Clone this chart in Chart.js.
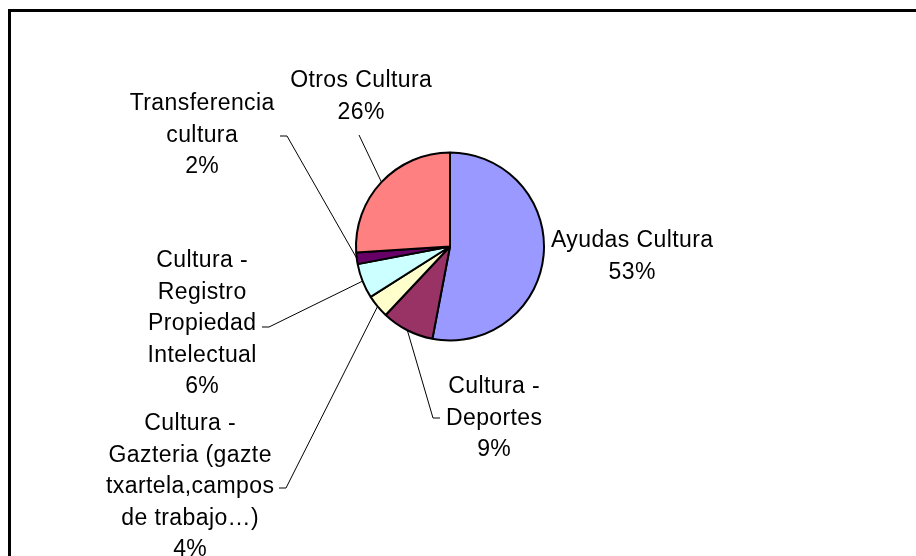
<!DOCTYPE html>
<html>
<head>
<meta charset="utf-8">
<script src="https://cdn.jsdelivr.net/npm/chart.js@4/dist/chart.umd.min.js"></script>
<style>
  html, body { margin: 0; padding: 0; background: #ffffff; }
  #wrap { width: 916px; height: 556px; position: relative; }
</style>
</head>
<body>
<div id="wrap"><canvas id="c" width="916" height="556"></canvas></div>
<script>
// ---- Data ----
const categories = [
  "Ayudas Cultura",
  "Cultura - Deportes",
  "Cultura - Gazteria (gazte txartela,campos de trabajo…)",
  "Cultura - Registro Propiedad Intelectual",
  "Transferencia cultura",
  "Otros Cultura"
];
const shares = [53, 9, 4, 6, 2, 26];
const labelLines = [
  ["Ayudas Cultura"],
  ["Cultura -", "Deportes"],
  ["Cultura -", "Gazteria (gazte", "txartela,campos", "de trabajo…)"],
  ["Cultura -", "Registro", "Propiedad", "Intelectual"],
  ["Transferencia", "cultura"],
  ["Otros Cultura"]
];
const sliceColors = ["#9999FF", "#993366", "#FFFFCC", "#CCFFFF", "#660066", "#FF8080"];

// ---- Layout of the data labels (text anchor: centre x, first baseline y) ----
const labelAnchors = [
  [632, 247],
  [494, 393],
  [190, 430],
  [202, 267],
  [202, 110],
  [361, 87]
];
// leader line start points (near the label), the line ends on the slice edge
const leaderStarts = [
  null,
  [[440, 418], [433, 418]],
  [[279, 488], [286, 488]],
  [[262, 327], [269, 327]],
  [[280, 136], [287, 136]],
  [[359, 135]]
];
const LINE_H = 31.5;

const total = shares.reduce((a, b) => a + b, 0);

const framePlugin = {
  id: 'frame',
  afterDraw(chart) {
    const ctx = chart.ctx;
    ctx.save();
    ctx.strokeStyle = '#000';
    ctx.lineWidth = 3;
    ctx.strokeRect(9.5, 10.5, 1200, 1200);
    ctx.restore();
  }
};

const labelPlugin = {
  id: 'pieLabels',
  afterDatasetsDraw(chart) {
    const ctx = chart.ctx;
    const meta = chart.getDatasetMeta(0);
    const values = chart.data.datasets[0].data;
    ctx.save();
    // leader lines
    ctx.strokeStyle = '#000';
    ctx.lineWidth = 1;
    meta.data.forEach((arc, i) => {
      const pts = leaderStarts[i];
      if (!pts) return;
      const p = arc.getProps(['x', 'y', 'startAngle', 'endAngle', 'outerRadius'], true);
      const mid = (p.startAngle + p.endAngle) / 2;
      const ex = p.x + Math.cos(mid) * p.outerRadius;
      const ey = p.y + Math.sin(mid) * p.outerRadius;
      ctx.beginPath();
      ctx.moveTo(pts[0][0], pts[0][1]);
      for (let k = 1; k < pts.length; k++) ctx.lineTo(pts[k][0], pts[k][1]);
      ctx.lineTo(ex, ey);
      ctx.stroke();
    });
    // texts
    ctx.fillStyle = '#000';
    ctx.font = '23px "Liberation Sans", Arial, sans-serif';
    ctx.textAlign = 'center';
    ctx.textBaseline = 'alphabetic';
    try { ctx.letterSpacing = '0.4px'; } catch (e) {}
    meta.data.forEach((arc, i) => {
      const lines = labelLines[i].concat([Math.round(values[i] / total * 100) + '%']);
      const [cx, by] = labelAnchors[i];
      lines.forEach((t, k) => {
        ctx.fillText(t, cx + 0.2, by + k * LINE_H);
      });
    });
    ctx.restore();
  }
};

new Chart(document.getElementById('c'), {
  type: 'pie',
  data: {
    labels: categories,
    datasets: [{
      data: shares,
      backgroundColor: sliceColors,
      borderColor: '#000000',
      borderWidth: 2,
      radius: 94
    }]
  },
  options: {
    responsive: false,
    animation: false,
    devicePixelRatio: 1,
    layout: { padding: { left: 350, right: 366, top: 146.5, bottom: 209.5 } },
    plugins: {
      legend: { display: false },
      tooltip: { enabled: false },
      title: { display: false }
    }
  },
  plugins: [labelPlugin, framePlugin]
});
</script>
</body>
</html>
